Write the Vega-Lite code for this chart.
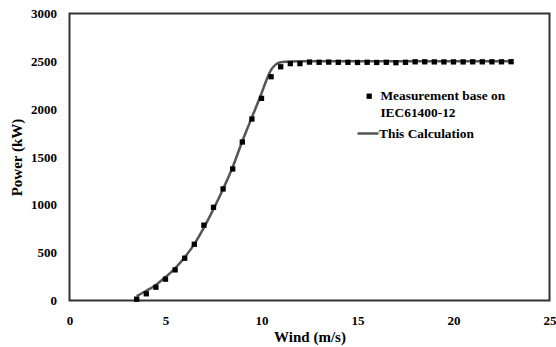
{
  "$schema": "https://vega.github.io/schema/vega-lite/v6.json",
  "width": 480,
  "height": 287,
  "autosize": {"type": "none"},
  "padding": {"left": 69.5, "top": 13.5, "right": 6.5, "bottom": 46.5},
  "background": "white",
  "config": {
    "font": "Liberation Serif",
    "view": {"stroke": "#333333", "strokeWidth": 2},
    "axis": {
      "grid": false,
      "ticks": false,
      "domain": false,
      "labelFont": "Liberation Serif",
      "labelFontWeight": "bold",
      "labelFontSize": 13,
      "labelColor": "#000000",
      "titleFont": "Liberation Serif",
      "titleFontWeight": "bold",
      "titleFontSize": 15,
      "titleColor": "#000000"
    },
    "legend": {
      "labelFont": "Liberation Serif",
      "labelFontWeight": "bold",
      "labelFontSize": 13.4,
      "labelColor": "#000000",
      "padding": 0,
      "titlePadding": 0
    }
  },
  "datasets": {
    "measured": [
      {"wind": 3.5, "power": 14, "series": "Measurement"},
      {"wind": 4.0, "power": 70, "series": "Measurement"},
      {"wind": 4.5, "power": 139, "series": "Measurement"},
      {"wind": 5.0, "power": 223, "series": "Measurement"},
      {"wind": 5.5, "power": 320, "series": "Measurement"},
      {"wind": 6.0, "power": 442, "series": "Measurement"},
      {"wind": 6.5, "power": 588, "series": "Measurement"},
      {"wind": 7.0, "power": 787, "series": "Measurement"},
      {"wind": 7.5, "power": 974, "series": "Measurement"},
      {"wind": 8.0, "power": 1166, "series": "Measurement"},
      {"wind": 8.5, "power": 1375, "series": "Measurement"},
      {"wind": 9.0, "power": 1657, "series": "Measurement"},
      {"wind": 9.5, "power": 1897, "series": "Measurement"},
      {"wind": 10.0, "power": 2113, "series": "Measurement"},
      {"wind": 10.5, "power": 2339, "series": "Measurement"},
      {"wind": 11.0, "power": 2443, "series": "Measurement"},
      {"wind": 11.5, "power": 2476, "series": "Measurement"},
      {"wind": 12.0, "power": 2476, "series": "Measurement"},
      {"wind": 12.5, "power": 2492, "series": "Measurement"},
      {"wind": 13.0, "power": 2490, "series": "Measurement"},
      {"wind": 13.5, "power": 2492, "series": "Measurement"},
      {"wind": 14.0, "power": 2490, "series": "Measurement"},
      {"wind": 14.5, "power": 2490, "series": "Measurement"},
      {"wind": 15.0, "power": 2488, "series": "Measurement"},
      {"wind": 15.5, "power": 2490, "series": "Measurement"},
      {"wind": 16.0, "power": 2488, "series": "Measurement"},
      {"wind": 16.5, "power": 2490, "series": "Measurement"},
      {"wind": 17.0, "power": 2486, "series": "Measurement"},
      {"wind": 17.5, "power": 2490, "series": "Measurement"},
      {"wind": 18.0, "power": 2495, "series": "Measurement"},
      {"wind": 18.5, "power": 2495, "series": "Measurement"},
      {"wind": 19.0, "power": 2494, "series": "Measurement"},
      {"wind": 19.5, "power": 2494, "series": "Measurement"},
      {"wind": 20.0, "power": 2494, "series": "Measurement"},
      {"wind": 20.5, "power": 2494, "series": "Measurement"},
      {"wind": 21.0, "power": 2495, "series": "Measurement"},
      {"wind": 21.5, "power": 2495, "series": "Measurement"},
      {"wind": 22.0, "power": 2495, "series": "Measurement"},
      {"wind": 22.5, "power": 2495, "series": "Measurement"},
      {"wind": 23.0, "power": 2496, "series": "Measurement"}
    ],
    "calc": [
      {"wind": 3.5, "power": 45, "series": "This Calculation"},
      {"wind": 4.0, "power": 102, "series": "This Calculation"},
      {"wind": 4.5, "power": 163, "series": "This Calculation"},
      {"wind": 5.0, "power": 245, "series": "This Calculation"},
      {"wind": 5.5, "power": 337, "series": "This Calculation"},
      {"wind": 6.0, "power": 452, "series": "This Calculation"},
      {"wind": 6.5, "power": 590, "series": "This Calculation"},
      {"wind": 7.0, "power": 762, "series": "This Calculation"},
      {"wind": 7.5, "power": 955, "series": "This Calculation"},
      {"wind": 8.0, "power": 1165, "series": "This Calculation"},
      {"wind": 8.5, "power": 1395, "series": "This Calculation"},
      {"wind": 9.0, "power": 1665, "series": "This Calculation"},
      {"wind": 9.5, "power": 1915, "series": "This Calculation"},
      {"wind": 10.0, "power": 2165, "series": "This Calculation"},
      {"wind": 10.25, "power": 2300, "series": "This Calculation"},
      {"wind": 10.5, "power": 2410, "series": "This Calculation"},
      {"wind": 10.75, "power": 2468, "series": "This Calculation"},
      {"wind": 11.0, "power": 2490, "series": "This Calculation"},
      {"wind": 11.5, "power": 2499, "series": "This Calculation"},
      {"wind": 12.0, "power": 2500, "series": "This Calculation"},
      {"wind": 15.0, "power": 2500, "series": "This Calculation"},
      {"wind": 20.0, "power": 2500, "series": "This Calculation"},
      {"wind": 23.0, "power": 2500, "series": "This Calculation"}
    ]
  },
  "layer": [
    {
      "data": {"name": "calc"},
      "mark": {"type": "line", "interpolate": "monotone", "strokeWidth": 2.5},
      "encoding": {
        "x": {
          "field": "wind", "type": "quantitative",
          "scale": {"domain": [0, 25], "nice": false},
          "axis": {"values": [0, 5, 10, 15, 20, 25], "format": "d", "title": "Wind (m/s)", "labelPadding": 14, "titlePadding": 2, "labelFlush": false}
        },
        "y": {
          "field": "power", "type": "quantitative",
          "scale": {"domain": [0, 3000], "nice": false},
          "axis": {"values": [0, 500, 1000, 1500, 2000, 2500, 3000], "format": "d", "title": "Power (kW)", "labelPadding": 13, "titlePadding": 6, "labelFlush": false}
        },
        "color": {
          "field": "series", "type": "nominal",
          "scale": {"range": ["#555555"]},
          "legend": {"title": null, "orient": "none", "legendX": 286.5, "legendY": 108, "symbolType": "stroke", "symbolSize": 441, "symbolStrokeWidth": 2.5, "labelOffset": -1}
        }
      }
    },
    {
      "data": {"name": "measured"},
      "mark": {"type": "point", "filled": true, "color": "#000000", "opacity": 1, "size": 28},
      "encoding": {
        "x": {"field": "wind", "type": "quantitative"},
        "y": {"field": "power", "type": "quantitative"},
        "shape": {
          "field": "series", "type": "nominal",
          "scale": {"domain": ["Measurement", "IEC"], "range": ["square", "M0,0"]},
          "legend": {"title": null, "orient": "none", "legendX": 293, "legendY": 76, "rowPadding": 1.6, "symbolFillColor": "#000000", "symbolStrokeWidth": 0, "symbolSize": 28, "labelOffset": 4.5, "labelExpr": "datum.value == 'Measurement' ? 'Measurement base on' : 'IEC61400-12'"}
        }
      }
    }
  ]
}
